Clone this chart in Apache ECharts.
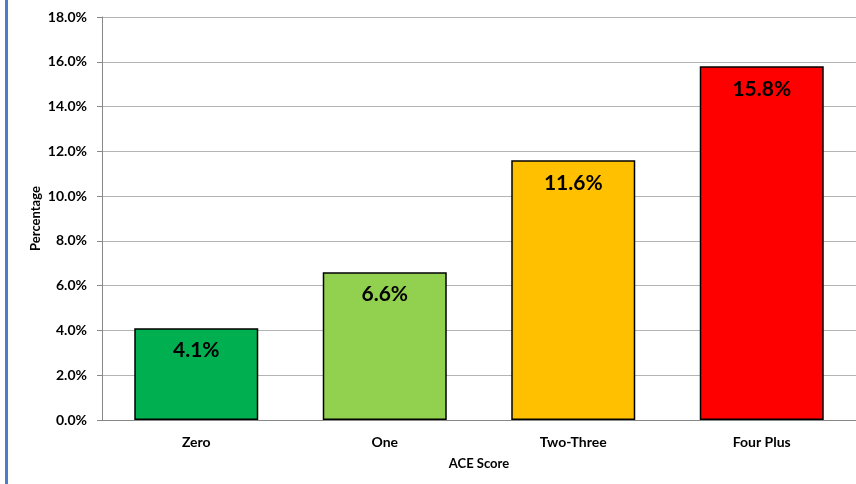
<!DOCTYPE html>
<html>
<head>
<meta charset="utf-8">
<script src="https://cdn.jsdelivr.net/npm/echarts@6/dist/echarts.min.js"></script>
<style>
  html, body { margin: 0; padding: 0; background: #fff; }
  #chart { width: 856px; height: 484px; }
</style>
</head>
<body>
<div id="chart"></div>
<script>
// ACE score groups and the share (%) in each
const categories = ['Zero', 'One', 'Two-Three', 'Four Plus'];
const values = [4.1, 6.6, 11.6, 15.8];
const barColors = ['#00B050', '#92D050', '#FFC000', '#FF0000'];
const yTicks = { min: 0, max: 18, interval: 2 };

const font = 'Lato, "Open Sans", sans-serif';

const chart = echarts.init(document.getElementById('chart'));
chart.setOption({
  animation: false,
  graphic: [{
    type: 'rect',
    shape: { x: 5, y: 0, width: 3, height: 484 },
    style: { fill: '#4A7EC6' },
    silent: true
  }],
  grid: { left: 102, right: 0, top: 17, bottom: 64, containLabel: false },
  xAxis: {
    type: 'category',
    data: categories,
    name: 'ACE Score',
    nameLocation: 'middle',
    nameGap: 37,
    nameTextStyle: { fontFamily: font, fontWeight: 'bold', fontSize: 13, color: '#000' },
    axisLine: { lineStyle: { color: '#888', width: 1 } },
    axisTick: { show: false },
    axisLabel: { fontFamily: font, fontWeight: 'bold', fontSize: 14, color: '#000', margin: 15 }
  },
  yAxis: {
    type: 'value',
    min: yTicks.min,
    max: yTicks.max,
    interval: yTicks.interval,
    name: 'Percentage',
    nameLocation: 'middle',
    nameGap: 60,
    nameMoveOverlap: false,
    nameTextStyle: { fontFamily: font, fontWeight: 'bold', fontSize: 13, color: '#000' },
    axisLine: { show: true, lineStyle: { color: '#888', width: 1 } },
    axisTick: { show: true, length: 5, lineStyle: { color: '#888' } },
    axisLabel: {
      fontFamily: font, fontWeight: 'bold', fontSize: 14, color: '#000', margin: 15,
      formatter: v => v.toFixed(1) + '%'
    },
    splitLine: { lineStyle: { color: '#b4b4b4', width: 1 } }
  },
  series: [{
    type: 'bar',
    data: values.map((v, i) => ({ value: v, itemStyle: { color: barColors[i] } })),
    barWidth: 124,
    itemStyle: { borderColor: '#000', borderWidth: 1.5 },
    label: {
      show: true,
      position: 'insideTop',
      distance: 12,
      fontFamily: font,
      fontWeight: 'bold',
      fontSize: 21,
      color: '#000',
      formatter: p => p.value.toFixed(1) + '%'
    }
  }]
});
</script>
</body>
</html>
